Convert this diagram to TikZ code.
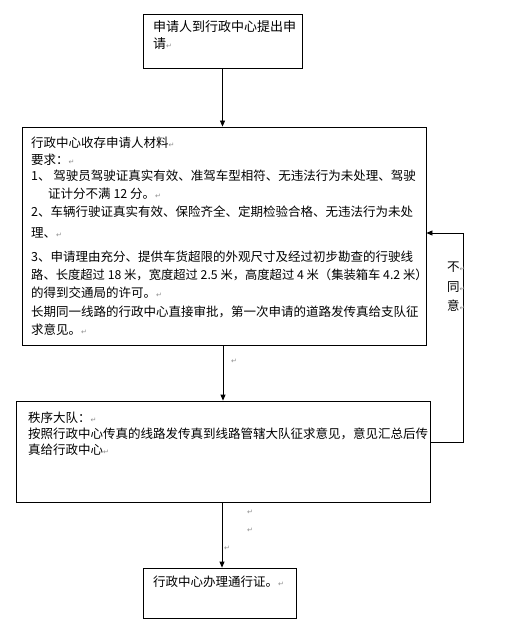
\documentclass[tikz,border=0pt]{standalone}
\usepackage{fontspec}
\setmainfont{Noto Sans CJK SC}
\newfontfamily\symf{DejaVu Sans}
\usetikzlibrary{arrows.meta}
\newcommand{\rmk}{{\symf\fontsize{7}{7}\selectfont\color{black!45}↵}}
\tikzset{
  box/.style={draw, line width=0.8pt, inner sep=0pt},
  txt/.style={anchor=west, inner sep=0pt, font=\fontsize{12.5}{15}\selectfont},
  big/.style={txt, font=\fontsize{13}{15}\selectfont},
  arr/.style={line width=0.8pt, -{Triangle[length=6pt,width=5pt]}},
  mk/.style={inner sep=0pt, font=\symf\fontsize{7}{7}\selectfont, text=black!45}
}
\begin{document}
\begin{tikzpicture}[x=1pt,y=-1pt]
\useasboundingbox (0,0) rectangle (511,628);
% boxes
\node[box, minimum width=159pt, minimum height=54pt] (b1) at (222.5,41) {};
\node[box, minimum width=404pt, minimum height=218pt] (b2) at (224,236) {};
\node[box, minimum width=414pt, minimum height=101pt] (b3) at (223,451.5) {};
\node[box, minimum width=153pt, minimum height=50pt] (b4) at (219.5,593) {};
% box1 text
\node[big] (t11) at (153,27) {申请人到行政中心提出申};
\node[big] (t12) at (153,44) {请\rmk};
% box2 text
\node[txt] (t21) at (31,143) {行政中心收存申请人材料\rmk};
\node[txt] (t22) at (31,160) {要求：\rmk};
\node[txt] (t23) at (31,176) {1、 驾驶员驾驶证真实有效、准驾车型相符、无违法行为未处理、驾驶};
\node[txt] (t24) at (48,194) {证计分不满 12 分。\rmk};
\node[txt] (t25) at (31,212) {2、车辆行驶证真实有效、保险齐全、定期检验合格、无违法行为未处};
\node[txt] (t26) at (31,233) {理、\rmk};
\node[txt] (t27) at (31,257) {3、申请理由充分、提供车货超限的外观尺寸及经过初步勘查的行驶线};
\node[txt, font=\fontsize{12.3}{15}\selectfont] (t28) at (31,275) {路、长度超过 18 米，宽度超过 2.5 米，高度超过 4 米（集装箱车 4.2 米）};
\node[txt] (t29) at (31,293) {的得到交通局的许可。\rmk};
\node[txt] (t210) at (31,312) {长期同一线路的行政中心直接审批，第一次申请的道路发传真给支队征};
\node[txt] (t211) at (31,330) {求意见。\rmk};
% box3 text
\node[txt] (t31) at (28,418) {秩序大队：\rmk};
\node[txt] (t32) at (28,434) {按照行政中心传真的线路发传真到线路管辖大队征求意见，意见汇总后传};
\node[txt] (t33) at (28,450) {真给行政中心\rmk};
% box4 text
\node[txt] (t41) at (153,582) {行政中心办理通行证。\rmk};
% connectors
\draw[arr] (b1.south) -- (b1.south |- b2.north);
\draw[arr] (b2.south -| 223,0) -- (223,0 |- b3.north);
\draw[arr] (b3.south -| 222,0) -- (222,0 |- b4.north);
\coordinate (fb1) at (463,442);
\coordinate (fb2) at (463,233);
\draw[arr] (b3.east |- fb1) -- (fb1) -- (fb2) -- (b2.east |- fb2);
% label
\node[txt] (n1) at (447,267) {不\rmk};
\node[txt] (n2) at (447,287) {同\rmk};
\node[txt] (n3) at (447,306) {意\rmk};
% stray paragraph marks
\node[mk] (m1) at (234,361) {↵};
\node[mk] (m2) at (250,512) {↵};
\node[mk] (m3) at (250,530) {↵};
\node[mk] (m4) at (227,548) {↵};
\end{tikzpicture}
\end{document}
